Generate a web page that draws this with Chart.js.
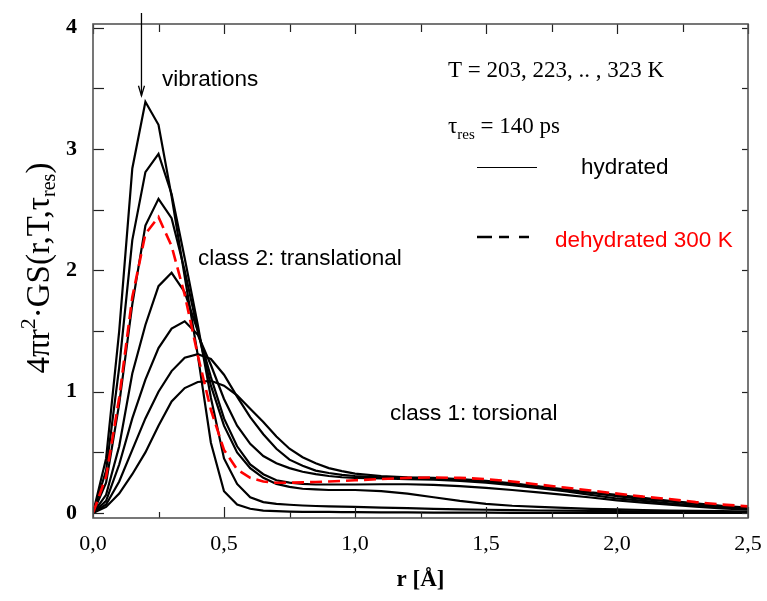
<!DOCTYPE html>
<html><head><meta charset="utf-8">
<script src="https://cdn.jsdelivr.net/npm/chart.js@4/dist/chart.umd.min.js"></script>
<style>html,body{margin:0;padding:0;background:#fff}canvas{display:block}</style>
</head><body>
<canvas id="c" width="767" height="601"></canvas>
<script>
// r [Å]
const rValues = [0,0.05,0.1,0.15,0.2,0.25,0.3,0.35,0.4,0.45,0.5,0.55,0.6,0.65,0.7,0.75,0.8,0.85,0.9,0.95,1.0,
                 1.1,1.2,1.3,1.4,1.5,1.6,1.7,1.8,1.9,2.0,2.1,2.2,2.3,2.4,2.5];
// hydrated, T = 203 ... 323 K
const hyd203 = [0,0.45,1.5,2.84,3.39,3.2,2.61,1.95,1.3,0.58,0.18,0.07,0.035,0.02,0.015,0.012,0.01,0.01,0.01,0.008,0.008,
                0.006,0.005,0.004,0.003,0.003,0.002,0.002,0.002,0.002,0.002,0.002,0.002,0.002,0.002,0.002];
const hyd223 = [0,0.35,1.2,2.25,2.81,2.96,2.63,2.1,1.55,0.95,0.45,0.24,0.13,0.09,0.075,0.068,0.062,0.058,0.055,0.052,0.05,
                0.045,0.04,0.035,0.03,0.027,0.024,0.021,0.019,0.017,0.015,0.013,0.012,0.011,0.01,0.008];
const hyd243 = [0,0.25,0.9,1.72,2.37,2.59,2.43,2.0,1.5,1.05,0.72,0.5,0.37,0.29,0.24,0.215,0.2,0.195,0.19,0.19,0.19,
                0.18,0.16,0.13,0.1,0.075,0.06,0.05,0.042,0.035,0.03,0.025,0.021,0.018,0.015,0.012];
const hyd263 = [0,0.15,0.55,1.15,1.55,1.87,1.98,1.82,1.5,1.12,0.78,0.55,0.4,0.32,0.27,0.25,0.24,0.235,0.235,0.235,0.235,
                0.237,0.237,0.232,0.222,0.208,0.19,0.17,0.15,0.128,0.105,0.085,0.068,0.052,0.038,0.027];
const hyd283 = [0,0.1,0.4,0.78,1.1,1.36,1.52,1.58,1.47,1.22,0.94,0.72,0.57,0.47,0.41,0.37,0.34,0.32,0.305,0.295,0.29,
                0.285,0.28,0.275,0.265,0.25,0.23,0.205,0.18,0.15,0.12,0.1,0.08,0.062,0.047,0.035];
const hyd303 = [0,0.07,0.26,0.52,0.78,1.0,1.17,1.28,1.31,1.27,1.14,0.96,0.79,0.65,0.53,0.44,0.39,0.35,0.33,0.315,0.305,
                0.295,0.29,0.285,0.275,0.26,0.24,0.215,0.19,0.165,0.14,0.115,0.095,0.075,0.055,0.04];
const hyd323 = [0,0.05,0.16,0.32,0.5,0.72,0.92,1.03,1.08,1.09,1.05,0.97,0.86,0.75,0.63,0.53,0.46,0.41,0.37,0.345,0.325,
                0.305,0.295,0.29,0.28,0.265,0.245,0.22,0.195,0.17,0.15,0.125,0.1,0.08,0.06,0.045];
// dehydrated 300 K
const dehyd300 = [0,0.3,0.95,1.78,2.3,2.44,2.2,1.8,1.3,0.85,0.52,0.36,0.29,0.26,0.25,0.25,0.253,0.256,0.26,0.265,0.27,
                  0.28,0.29,0.293,0.29,0.28,0.26,0.235,0.21,0.185,0.16,0.135,0.115,0.09,0.07,0.055];
const hydratedSeries = [hyd203, hyd223, hyd243, hyd263, hyd283, hyd303, hyd323];
const xTickValues = [0,0.25,0.5,0.75,1.0,1.25,1.5,1.75,2.0,2.25,2.5];
const yTickValues = [0,0.5,1,1.5,2,2.5,3,3.5,4];

const pts = arr => arr.map((v,i)=>({x:rValues[i], y:v}));
const datasets = [{
  data: pts(dehyd300), borderColor:'#ff0000', borderWidth:2.6, borderDash:[12,6], pointRadius:0, tension:0, fill:false
}];
hydratedSeries.forEach(s=>datasets.push({data:pts(s), borderColor:'#000', borderWidth:2.2, pointRadius:0, tension:0, fill:false}));

function drawRich(ctx, segs, x, y, align){
  let total = 0;
  segs.forEach(s=>{ctx.font=s.f; s.w=ctx.measureText(s.t).width; total+=s.w;});
  let cx = align==='center' ? x-total/2 : x;
  segs.forEach(s=>{ctx.font=s.f; ctx.fillStyle=s.c||'#000'; ctx.fillText(s.t, cx, y+(s.dy||0)); cx+=s.w;});
}

const decor = {
  id:'decor',
  afterDraw(chart){
    const {ctx, chartArea:a, scales:{x, y}} = chart;
    ctx.save();
    const ln=(x1,y1,x2,y2)=>{ctx.beginPath();ctx.moveTo(x1,y1);ctx.lineTo(x2,y2);ctx.stroke();};
    // ticks (inward)
    ctx.strokeStyle='#222'; ctx.lineWidth=1.2;
    xTickValues.forEach(v=>{
      const px = Math.round(x.getPixelForValue(v))+0.5;
      const major = Math.abs(v*2-Math.round(v*2))<1e-6;
      ln(px,a.bottom,px,a.bottom-(major?11:6));
      ln(px,a.top,px,a.top+(major?10:8));
    });
    yTickValues.forEach(v=>{
      const py = Math.round(y.getPixelForValue(v))+0.5;
      ln(a.left,py,a.left+11,py);
      ln(a.right,py,a.right-6,py);
    });
    // frame
    ctx.strokeStyle='#555'; ctx.lineWidth=1.6;
    ctx.strokeRect(a.left,a.top,a.right-a.left,a.bottom-a.top);

    // arrow "vibrations"
    const ax = x.getPixelForValue(0.185);
    const tip = y.getPixelForValue(3.44);
    ctx.strokeStyle='#000'; ctx.lineWidth=1.3;
    ln(ax, a.top-11, ax, tip);
    ctx.beginPath(); ctx.moveTo(ax-3, tip-10); ctx.lineTo(ax, tip); ctx.lineTo(ax+3, tip-10); ctx.stroke();

    // annotations
    const sans = '22.5px "Liberation Sans", Arial, sans-serif';
    ctx.fillStyle='#000'; ctx.textBaseline='alphabetic'; ctx.textAlign='left';
    ctx.font=sans;
    ctx.fillText('vibrations', 162, 86);
    ctx.fillText('class 2: translational', 198, 265);
    ctx.fillText('class 1: torsional', 390, 420);
    ctx.fillText('hydrated', 581, 174);
    ctx.fillStyle='#ff0000';
    ctx.fillText('dehydrated 300 K', 555, 247);

    const serif = s => s+'px "Liberation Serif", "Times New Roman", serif';
    ctx.fillStyle='#000';
    ctx.font=serif(23);
    ctx.fillText('T = 203, 223, .. , 323 K', 448, 77);
    drawRich(ctx, [{t:'τ',f:serif(23)},{t:'res',f:serif(15),dy:6},{t:' = 140 ps',f:serif(23)}], 448, 133, 'left');

    // legend lines
    ctx.strokeStyle='#000'; ctx.lineWidth=1.2;
    ln(477,167.5,537,167.5);
    ctx.lineWidth=2.6; ctx.setLineDash([15,7,10,10,10,10]);
    ln(477,237,530,237);
    ctx.setLineDash([]);

    // y axis title
    ctx.save();
    ctx.translate(49, 268);
    ctx.rotate(-Math.PI/2);
    drawRich(ctx, [
      {t:'4πr',f:serif(33)},{t:'2',f:serif(22),dy:-14},{t:'·GS(r,T,τ',f:serif(33)},
      {t:'res',f:serif(20),dy:6},{t:')',f:serif(33)}], 0, 0, 'center');
    ctx.restore();

    // x axis title
    ctx.font='bold '+serif(23); ctx.textAlign='center'; ctx.fillStyle='#000';
    ctx.fillText('r [Å]', (a.left+a.right)/2, 586);
    ctx.restore();
  }
};

new Chart(document.getElementById('c'), {
  type:'line',
  data:{datasets},
  options:{
    responsive:false, animation:false, devicePixelRatio:1,
    layout:{padding:{top:24,left:0,right:19,bottom:0}},
    plugins:{legend:{display:false}, tooltip:{enabled:false}},
    scales:{
      x:{type:'linear', min:0, max:2.5,
        afterFit:s=>{s.height=83;},
        afterBuildTicks:s=>{s.ticks=xTickValues.map(v=>({value:v}));},
        grid:{display:false}, border:{display:false},
        ticks:{autoSkip:false, maxRotation:0, padding:5, color:'#000',
          font:{family:'"Liberation Serif", "Times New Roman", serif', size:22},
          callback:v=> Math.abs(v*2-Math.round(v*2))<1e-6 ? v.toFixed(1).replace('.',',') : ''}
      },
      y:{type:'linear', min:-0.041, max:4.031,
        afterFit:s=>{s.width=93;},
        afterBuildTicks:s=>{s.ticks=yTickValues.map(v=>({value:v}));},
        grid:{display:false}, border:{display:false},
        ticks:{autoSkip:false, padding:8, color:'#000',
          font:{family:'"Liberation Serif", "Times New Roman", serif', size:22, weight:'bold'},
          callback:v=> Number.isInteger(v) ? String(v) : ''}
      }
    }
  },
  plugins:[decor]
});
</script>
</body></html>
